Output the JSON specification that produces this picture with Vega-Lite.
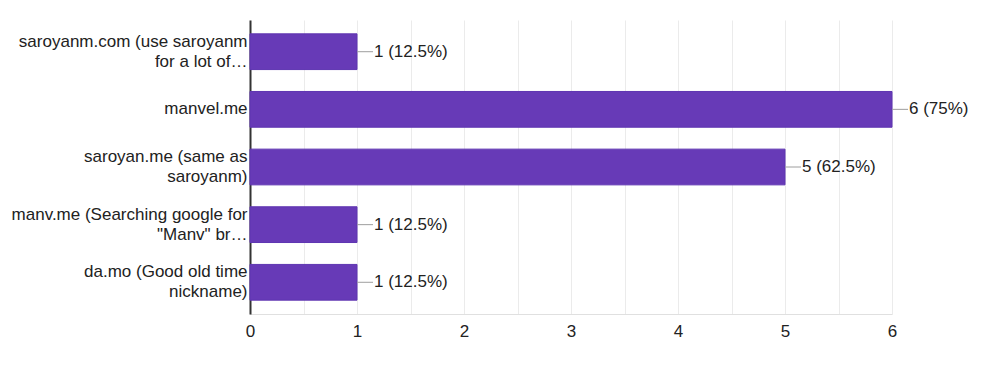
{
  "$schema": "https://vega.github.io/schema/vega-lite/v6.json",
  "width": 642,
  "height": 294,
  "autosize": {"type": "none"},
  "padding": {"left": 250, "top": 20, "right": 108, "bottom": 58},
  "background": "white",
  "config": {"view": {"stroke": null}, "font": "Liberation Sans"},
  "data": {"values": [
    {"option": "saroyanm.com (use saroyanm|for a lot of…", "count": 1, "label": "1 (12.5%)"},
    {"option": "manvel.me", "count": 6, "label": "6 (75%)"},
    {"option": "saroyan.me (same as|saroyanm)", "count": 5, "label": "5 (62.5%)"},
    {"option": "manv.me (Searching google for|\"Manv\" br…", "count": 1, "label": "1 (12.5%)"},
    {"option": "da.mo (Good old time|nickname)", "count": 1, "label": "1 (12.5%)"}
  ]},
  "encoding": {
    "y": {"field": "option", "type": "nominal", "sort": null,
      "scale": {"paddingInner": 0.38, "paddingOuter": 0.24},
      "axis": {"title": null, "labelExpr": "split(datum.value, '|')", "labelFontSize": 17, "labelColor": "#222222",
        "labelLineHeight": 20,
        "labelOffset": {"condition": {"test": "indexof(datum.value, '|') >= 0", "value": -10}, "value": 0},
        "labelLimit": 260, "ticks": false, "labelPadding": 3, "domainColor": "#333333", "domainWidth": 2, "grid": false}}
  },
  "layer": [
    {
      "mark": {"type": "bar", "color": "#673ab7", "stroke": "#5e35b1", "strokeWidth": 1},
      "encoding": {
        "x": {"field": "count", "type": "quantitative", "scale": {"domain": [0, 6], "nice": false},
          "axis": {"title": null, "values": [0, 0.5, 1, 1.5, 2, 2.5, 3, 3.5, 4, 4.5, 5, 5.5, 6],
            "labelExpr": "datum.value % 1 == 0 ? format(datum.value, 'd') : ''",
            "labelFlush": false,
            "labelFontSize": 17, "labelColor": "#222222", "labelPadding": 9, "ticks": false,
            "domain": true, "domainColor": "#e0e0e0", "domainWidth": 1,
            "grid": true, "gridColor": "#ebebeb", "gridWidth": 1}}
      }
    },
    {
      "mark": {"type": "rule", "color": "#9e9e9e", "strokeWidth": 1, "x2Offset": 16},
      "encoding": {
        "x": {"field": "count", "type": "quantitative"},
        "x2": {"field": "count"}
      }
    },
    {
      "mark": {"type": "text", "align": "left", "baseline": "middle", "dx": 17, "fontSize": 17, "color": "#222222"},
      "encoding": {
        "x": {"field": "count", "type": "quantitative"},
        "text": {"field": "label"}
      }
    }
  ]
}
